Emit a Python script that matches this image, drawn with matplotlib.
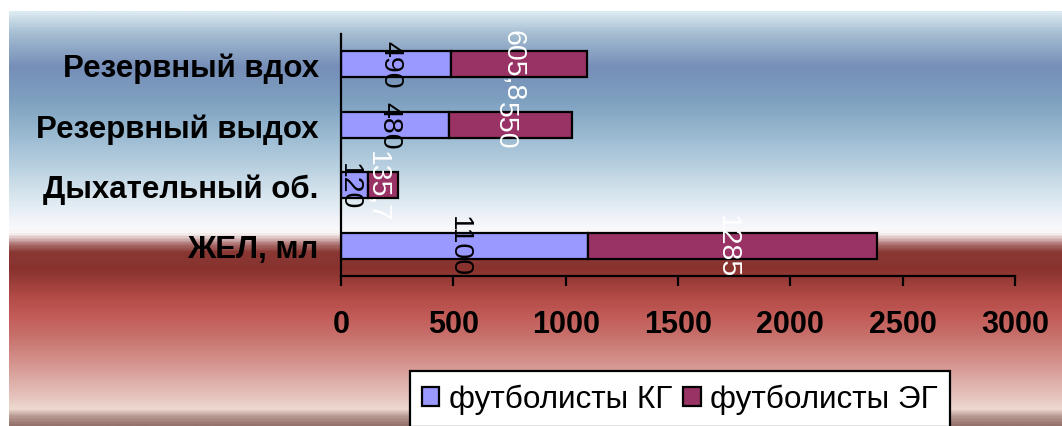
import numpy as np
import matplotlib.pyplot as plt
import matplotlib.transforms as mtransforms
from matplotlib.colors import LinearSegmentedColormap

plt.rcParams['font.family'] = ['Liberation Sans', 'DejaVu Sans']

categories = ['ЖЕЛ, мл', 'Дыхательный об.', 'Резервный выдох', 'Резервный вдох']
kg_values = [1100, 120, 480, 490]
eg_values = [1285, 135.7, 550, 605.8]
kg_labels = ['1100', '120', '480', '490']
eg_labels = ['1285', '135,7', '550', '605,8']
series_names = ['футболисты КГ', 'футболисты ЭГ']
x_ticks = [0, 500, 1000, 1500, 2000, 2500, 3000]

W, H = 1062, 427
fig = plt.figure(figsize=(W / 100, H / 100), dpi=100)

# background gradient (pixel rows from top, rgb)
stops = [
    (12, (220, 234, 242)), (33, (165, 190, 210)), (67, (118, 142, 184)),
    (100, (126, 160, 192)), (133, (152, 184, 208)), (167, (184, 208, 224)),
    (200, (220, 232, 240)), (228, (248, 248, 252)), (234, (250, 246, 246)),
    (240, (215, 185, 185)), (246, (170, 110, 108)), (253, (138, 56, 52)),
    (270, (136, 50, 46)), (300, (180, 76, 72)), (318, (194, 92, 88)),
    (340, (200, 115, 110)), (367, (214, 150, 145)), (400, (230, 198, 190)),
    (412, (238, 218, 210)), (417, (190, 160, 152)), (427, (150, 115, 108)),
]
y0, y1 = stops[0][0], stops[-1][0]
cmap = LinearSegmentedColormap.from_list(
    'bg', [((p - y0) / (y1 - y0), tuple(c / 255 for c in rgb)) for p, rgb in stops])
bg = fig.add_axes([0, 0, 1, 1], zorder=-1)
bg.imshow(np.linspace(0, 1, 400).reshape(-1, 1), cmap=cmap, aspect='auto',
          extent=[9, W, y1, y0])
bg.set_xlim(0, W)
bg.set_ylim(H, 0)
bg.axis('off')

left, right, top, bottom = 341, 1015, 35, 277
ax = fig.add_axes([left / W, 1 - bottom / H, (right - left) / W, (bottom - top) / H])
ax.set_facecolor('none')

y = np.arange(len(categories))
bar_h = 0.43
ax.barh(y, kg_values, height=bar_h, color='#9999ff', edgecolor='black', linewidth=1.6,
        label=series_names[0])
ax.barh(y, eg_values, left=kg_values, height=bar_h, color='#993366', edgecolor='black',
        linewidth=1.6, label=series_names[1])

# labels sit slightly left of segment centre, as in the original
shift = mtransforms.offset_copy(ax.transData, fig=fig, x=-6, y=0, units='dots')
for i in range(len(categories)):
    ax.text(kg_values[i] / 2, y[i], kg_labels[i], rotation=270, ha='center', va='center',
            fontsize=20.5, color='black', transform=shift)
    ax.text(kg_values[i] + eg_values[i] / 2, y[i], eg_labels[i], rotation=270,
            ha='center', va='center', fontsize=20.5, color='white', transform=shift)

ax.set_xlim(0, 3000)
ax.set_ylim(-0.5, 3.5)
ax.set_xticks(x_ticks)
ax.set_xticklabels([str(t) for t in x_ticks], fontsize=22, fontweight='bold')
ax.set_yticks(y)
ax.set_yticklabels(categories, fontsize=22.5, fontweight='bold')
ax.tick_params(axis='x', direction='out', length=7, width=1.6, pad=17)
ax.tick_params(axis='y', length=0, pad=16)
for s in ['top', 'right']:
    ax.spines[s].set_visible(False)
for s in ['left', 'bottom']:
    ax.spines[s].set_linewidth(1.6)

leg = fig.legend(loc='center', bbox_to_anchor=(680 / W, 1 - 400 / H), ncol=2,
                 fontsize=22.7, frameon=True, fancybox=False, edgecolor='black',
                 framealpha=1, handlelength=0.55, handleheight=0.55, handletextpad=0.3,
                 columnspacing=0.35, borderpad=0.4, borderaxespad=0)
leg.get_frame().set_linewidth(1.6)

fig.savefig('out.png', dpi=100)
